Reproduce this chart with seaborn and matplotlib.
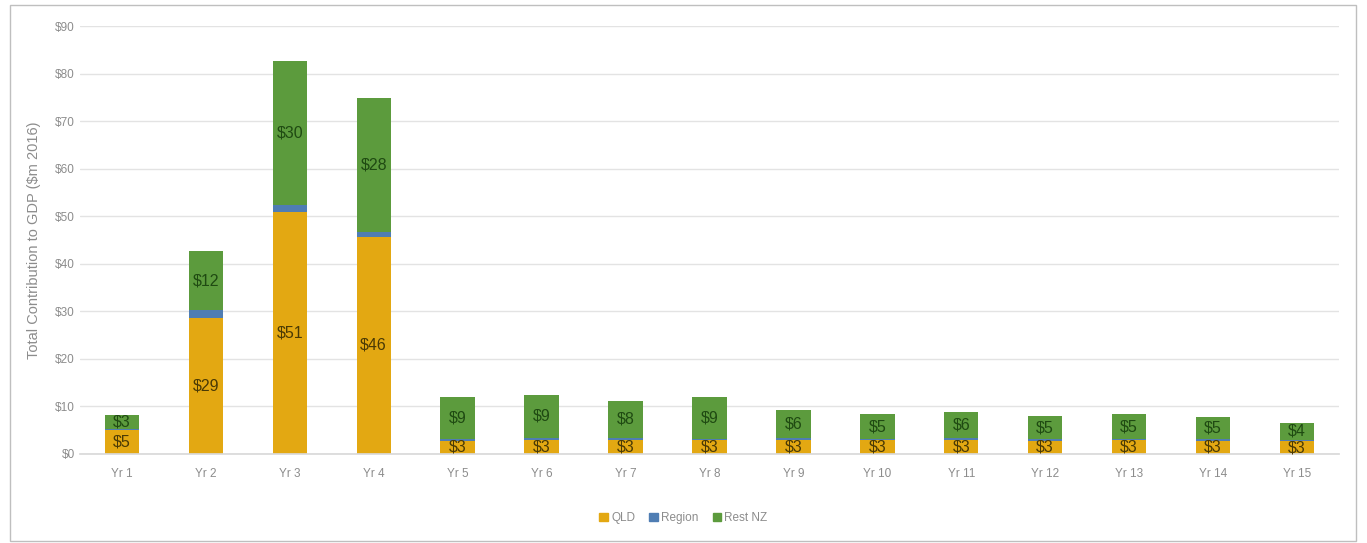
import numpy as np
import pandas as pd
import matplotlib
matplotlib.use("Agg")
import matplotlib.pyplot as plt
from matplotlib.patches import Rectangle, Patch
import seaborn as sns

# values ($m 2016)
years = ["Yr 1", "Yr 2", "Yr 3", "Yr 4", "Yr 5", "Yr 6", "Yr 7", "Yr 8",
         "Yr 9", "Yr 10", "Yr 11", "Yr 12", "Yr 13", "Yr 14", "Yr 15"]
qld = [5.0, 28.6, 50.8, 45.7, 2.8, 3.0, 3.0, 2.9, 3.0, 2.9, 3.0, 2.8, 2.9, 2.8, 2.7]
region = [0.2, 1.6, 1.5, 1.0, 0.3, 0.3, 0.3, 0.3, 0.3, 0.3, 0.3, 0.3, 0.3, 0.3, 0.3]
rest_nz = [3.0, 12.4, 30.4, 28.1, 8.9, 9.2, 7.9, 8.8, 6.0, 5.1, 5.6, 4.8, 5.1, 4.6, 3.6]

c_qld = "#E3A812"
c_region = "#4F7DB3"
c_rest = "#5C9B3D"
grey = "#8C8C8C"

sns.set_theme(style="white")
plt.rcParams["font.family"] = ["Liberation Sans", "DejaVu Sans"]

df = pd.DataFrame({"year": years, "qld": qld, "region": region, "rest": rest_nz})
df["qld_region"] = df["qld"] + df["region"]
df["total"] = df["qld_region"] + df["rest"]

fig = plt.figure(figsize=(13.67, 5.43), dpi=100)
ax = fig.add_axes([0.0585, 0.164, 0.921, 0.788])

# stacked bars drawn as cumulative layers
bar_kw = dict(width=0.41, saturation=1, linewidth=0, edgecolor="none", ax=ax)
sns.barplot(data=df, x="year", y="total", color=c_rest, **bar_kw)
sns.barplot(data=df, x="year", y="qld_region", color=c_region, **bar_kw)
sns.barplot(data=df, x="year", y="qld", color=c_qld, **bar_kw)

for i, row in df.iterrows():
    ax.text(i, row["qld"] / 2, f"${row['qld']:.0f}", ha="center", va="center",
            fontsize=11.5, color="#4A3A05")
    ax.text(i, row["qld_region"] + row["rest"] / 2, f"${row['rest']:.0f}",
            ha="center", va="center", fontsize=11.5, color="#1F4A12")

ax.set_ylim(0, 90)
ax.set_xlim(-0.5, len(years) - 0.5)
ax.set_yticks(range(0, 91, 10))
ax.set_yticklabels([f"${v}" for v in range(0, 91, 10)])
ax.yaxis.grid(True, color="#E3E3E3", linewidth=1)
ax.set_axisbelow(True)
for s in ["top", "right", "left"]:
    ax.spines[s].set_visible(False)
ax.spines["bottom"].set_color("#D9D9D9")
ax.tick_params(axis="both", colors=grey, labelsize=8.5, length=0)
ax.tick_params(axis="x", pad=10)
ax.set_xlabel("")
ax.set_ylabel("Total Contribution to GDP ($m 2016)", color=grey, fontsize=10.5, labelpad=10)

handles = [Patch(color=c_qld, label="QLD"), Patch(color=c_region, label="Region"),
           Patch(color=c_rest, label="Rest NZ")]
fig.legend(handles=handles, loc="center", bbox_to_anchor=(0.5, 0.046), ncol=3,
           frameon=False, fontsize=8.5, labelcolor=grey, handlelength=0.7,
           handleheight=0.7, handletextpad=0.3, columnspacing=1.2)

fig.patches.append(Rectangle((0.0073, 0.003), 0.985, 0.988, transform=fig.transFigure,
                             fill=False, edgecolor="#BFBFBF", linewidth=1))

fig.savefig("out.png", dpi=100)
